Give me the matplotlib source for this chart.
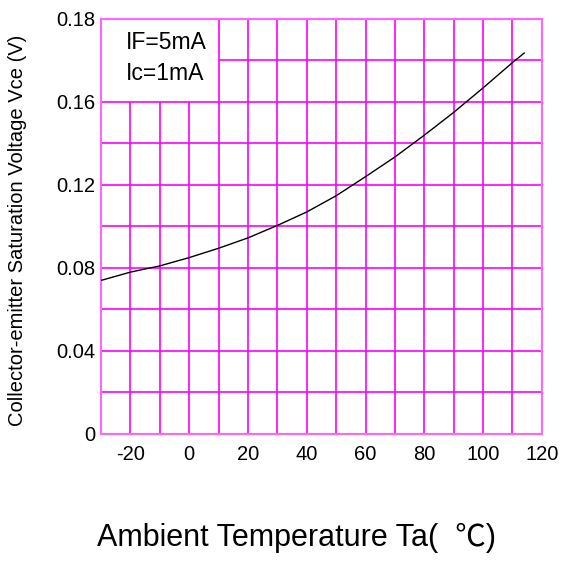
import matplotlib.pyplot as plt

# Vce(sat) vs ambient temperature
temps = [-30, -20, -10, 0, 10, 20, 30, 40, 50, 60, 70, 80, 90, 100, 110, 114]
vce = [0.074, 0.078, 0.081, 0.085, 0.0895, 0.0945, 0.1005, 0.107, 0.1148,
       0.124, 0.1335, 0.144, 0.155, 0.1668, 0.179, 0.1836]

xticks = [-20, 0, 20, 40, 60, 80, 100, 120]
yticks = [0, 0.04, 0.08, 0.12, 0.16, 0.20]
ylabels = ['0', '0.04', '0.08', '0.12', '0.16', '0.18']  # as printed on the original

plt.rcParams['font.family'] = ['Liberation Sans', 'Noto Sans CJK SC', 'DejaVu Sans']
plt.rcParams['axes.unicode_minus'] = False
grid_c = '#ff00ff'

fig = plt.figure(figsize=(5.66, 5.62), dpi=100)
ax = fig.add_axes([0.1784, 0.2278, 0.779, 0.7384])
ax.set_xlim(-30, 120)
ax.set_ylim(0, 0.20)

# grid, leaving the top-left cell blank for the condition text
for x in range(-20, 120, 10):
    ax.vlines(x, 0, 0.16 if x < 10 else 0.20, color=grid_c, lw=1.2, zorder=1)
for i in range(1, 10):
    y = i * 0.02
    ax.hlines(y, 10 if y > 0.165 else -30, 120, color=grid_c, lw=1.2, zorder=1)

ax.plot(temps, vce, color='black', lw=1.0, zorder=3)

ax.text(-21.6, 0.1885, 'IF=5mA', fontsize=16.5, va='center')
ax.text(-21.6, 0.1735, 'Ic=1mA', fontsize=16.5, va='center')

for s in ax.spines.values():
    s.set_color('#ff66ff')
    s.set_linewidth(1.5)

ax.set_xticks(xticks)
ax.set_yticks(yticks)
ax.set_yticklabels(ylabels)
ax.tick_params(length=0, labelsize=14.5)
ax.tick_params(axis='y', pad=4)
ax.tick_params(axis='x', pad=8)
ax.set_ylabel('Collector-emitter Saturation Voltage Vce (V)', fontsize=14.5)
ax.yaxis.set_label_coords(-(101 - 27) / 441, 0.49)
fig.text(296 / 566, 1 - 538 / 562, 'Ambient Temperature Ta(  \u2103)',
         fontsize=22, ha='center', va='center')

fig.savefig('out.png', dpi=100)
